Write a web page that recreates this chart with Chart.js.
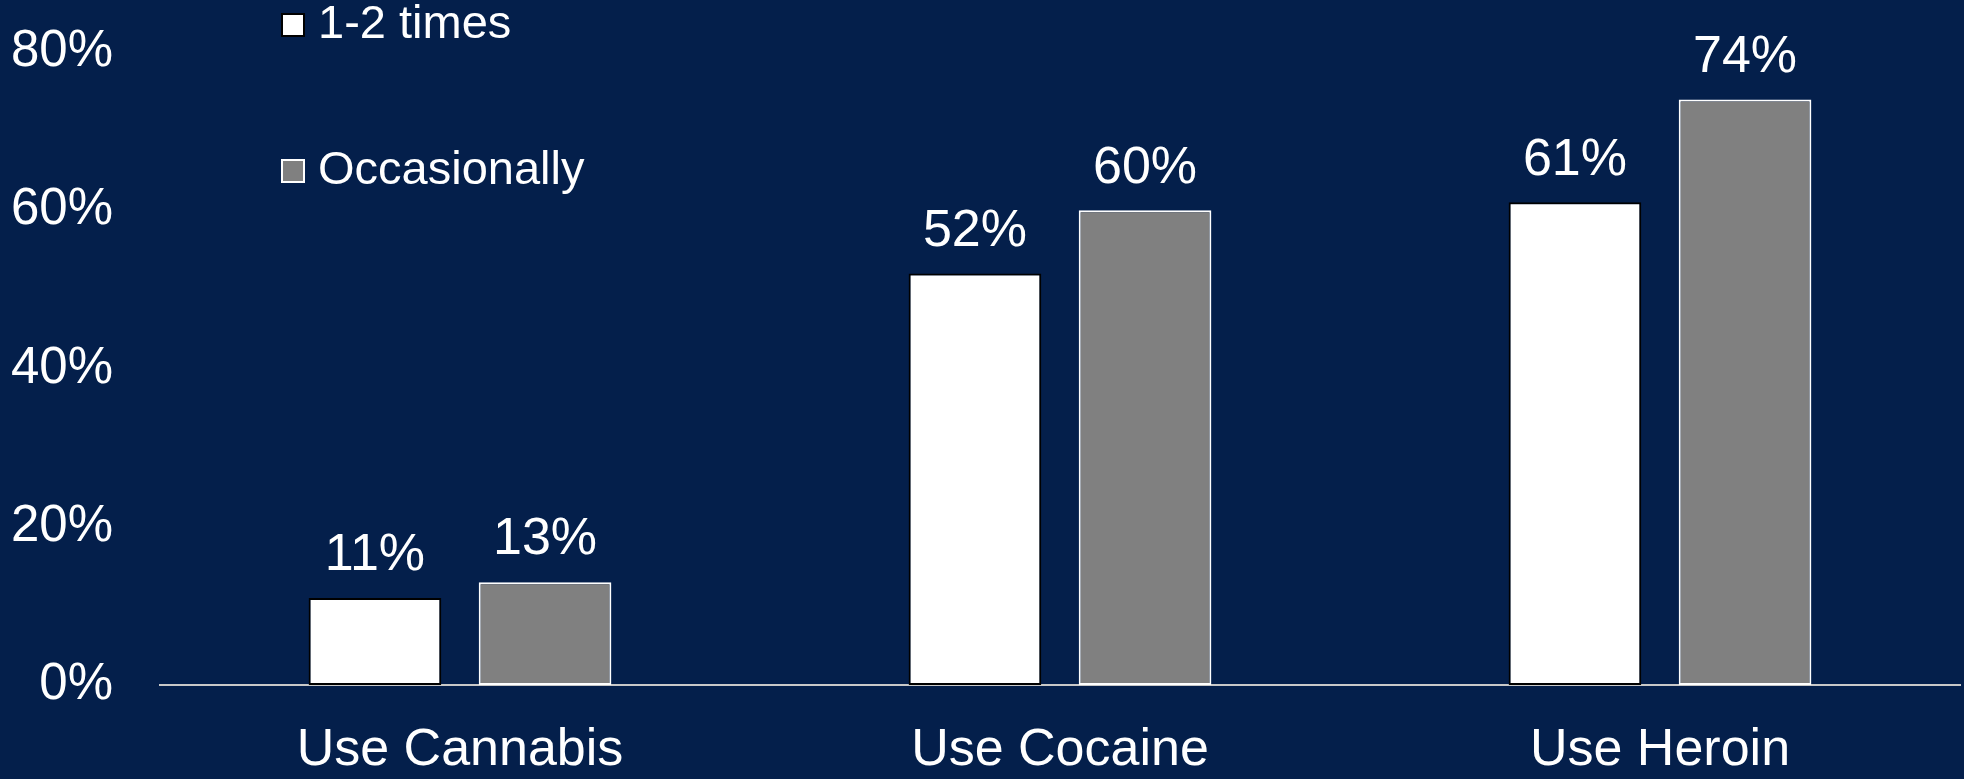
<!DOCTYPE html>
<html>
<head>
<meta charset="utf-8">
<script src="https://cdn.jsdelivr.net/npm/chart.js@4.4.1/dist/chart.umd.min.js"></script>
<style>
html,body{margin:0;padding:0;background:#041F4B;overflow:hidden;}
canvas{display:block;}
</style>
</head>
<body>
<canvas id="c" width="1964" height="779"></canvas>
<script>
const categories = ["Use Cannabis", "Use Cocaine", "Use Heroin"];
const seriesNames = ["1-2 times", "Occasionally"];
const onceTwice = [11, 52, 61];
const occasionally = [13, 60, 74];
const yTicks = [0, 20, 40, 60, 80];

const FONT = '"Liberation Sans", Arial, sans-serif';
const BG = '#041F4B';

const bgPlugin = {
  id: 'bg',
  beforeDraw(chart) {
    const ctx = chart.ctx;
    ctx.save();
    ctx.fillStyle = BG;
    ctx.fillRect(0, 0, chart.width, chart.height);
    ctx.restore();
  }
};

const labelPlugin = {
  id: 'valueLabels',
  afterDatasetsDraw(chart) {
    const ctx = chart.ctx;
    ctx.save();
    ctx.font = '52px ' + FONT;
    ctx.fillStyle = '#ffffff';
    ctx.textAlign = 'center';
    ctx.textBaseline = 'middle';
    chart.data.datasets.forEach((ds, di) => {
      const meta = chart.getDatasetMeta(di);
      meta.data.forEach((bar, i) => {
        ctx.fillText(ds.data[i] + '%', bar.x, bar.y - 42);
      });
    });
    ctx.restore();
  }
};

const legendPlugin = {
  id: 'customLegend',
  afterDraw(chart) {
    const ctx = chart.ctx;
    ctx.save();
    ctx.font = '47px ' + FONT;
    ctx.textBaseline = 'middle';
    ctx.textAlign = 'left';
    const x0 = 281, ys = [25, 171], box = 24;
    chart.data.datasets.forEach((ds, i) => {
      const y = ys[i];
      ctx.fillStyle = ds.backgroundColor;
      ctx.fillRect(x0, y - 12, box, box);
      ctx.strokeStyle = ds.borderColor;
      ctx.lineWidth = 2;
      ctx.strokeRect(x0 + 1, y - 11, box - 2, box - 2);
      ctx.fillStyle = '#ffffff';
      ctx.fillText(ds.label, x0 + 37, y);
    });
    ctx.restore();
  }
};

new Chart(document.getElementById('c'), {
  type: 'bar',
  data: {
    labels: categories,
    datasets: [
      { label: seriesNames[0], data: onceTwice, backgroundColor: '#ffffff', borderColor: '#000000', borderWidth: 2, borderSkipped: false },
      { label: seriesNames[1], data: occasionally, backgroundColor: '#808080', borderColor: '#ffffff', borderWidth: 2, borderSkipped: false }
    ]
  },
  options: {
    responsive: false,
    animation: false,
    categoryPercentage: 0.567,
    barPercentage: 0.78,
    layout: { padding: { top: 52, right: 4, left: 0, bottom: 0 } },
    plugins: { legend: { display: false }, tooltip: { enabled: false } },
    scales: {
      x: {
        afterFit(scale) { scale.height = 94; },
        grid: { display: false, drawTicks: false },
        border: { display: true, color: '#c8c8c8', width: 2 },
        ticks: { color: '#ffffff', font: { family: FONT, size: 52 }, padding: 34 }
      },
      y: {
        min: 0, max: 80,
        afterBuildTicks(scale) { scale.ticks = yTicks.map(v => ({ value: v })); },
        afterFit(scale) { scale.width = 160; scale.paddingTop = 0; scale.paddingBottom = 0; },
        grid: { display: false, drawTicks: false },
        border: { display: false },
        ticks: { color: '#ffffff', font: { family: FONT, size: 51 }, padding: 47, callback: v => v + '%' }
      }
    }
  },
  plugins: [bgPlugin, labelPlugin, legendPlugin]
});
</script>
</body>
</html>
